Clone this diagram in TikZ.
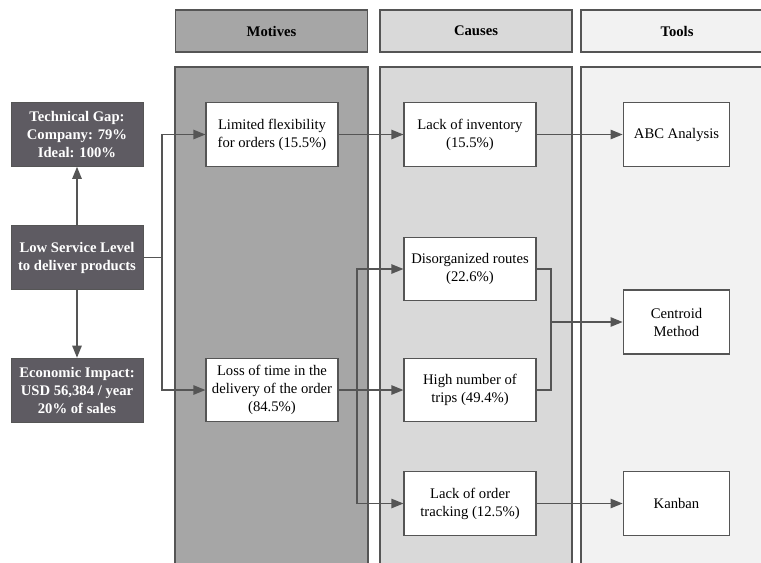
\documentclass[tikz,border=0pt]{standalone}
\usepackage{fontspec}
\setmainfont{Liberation Serif}
\usetikzlibrary{positioning}
\usetikzlibrary{arrows.meta}
\definecolor{motivesgray}{HTML}{A6A6A6}
\definecolor{causesgray}{HTML}{D9D9D9}
\definecolor{toolsgray}{HTML}{F2F2F2}
\definecolor{problemgray}{HTML}{5E5B62}
\definecolor{linegray}{HTML}{555555}
\newcommand{\boxfont}{\fontsize{11}{13.5}\selectfont}
\tikzset{
        header/.style={draw=linegray, line width=1pt, minimum width=144pt, minimum height=31.5pt, inner sep=0pt, font=\boxfont\bfseries},
        band/.style={draw=linegray, line width=1.5pt},
        problem/.style={draw=linegray, fill=problemgray, text=white, align=center, minimum width=99pt, minimum height=48pt, inner sep=0pt, font=\boxfont\bfseries},
        item/.style={draw=linegray, line width=0.8pt, fill=white, align=center, minimum width=99pt, minimum height=47.5pt, inner sep=0pt, font=\boxfont},
        tool/.style={item, minimum width=80pt, minimum height=48pt},
        wire/.style={draw=linegray, line width=1.1pt},
        link/.style={wire, -{Triangle[length=9pt, width=7pt]}},
}
\begin{document}
\begin{tikzpicture}[x=0.75pt, y=-0.75pt]
      \useasboundingbox (0,0) rectangle (761,562);
      % COLUMNS
      \draw[band, fill=motivesgray] (175,67) rectangle (368,575);
      \draw[band, fill=causesgray] (380,67) rectangle (572,575);
      \draw[band, fill=toolsgray] (581,67) rectangle (780,575);
      % HEADERS
      \node[header, fill=motivesgray] (motives) at (271.5,31) {Motives};
      \node[header, fill=causesgray] (causes) at (476,31) {Causes};
      \draw[draw=linegray, line width=1pt, fill=toolsgray] (581,10) rectangle (780,52);
      \node[font=\boxfont\bfseries] (tools) at (677,31) {Tools};

      % PROBLEM
      \node[problem] (gap) at (77,134.5) {Technical Gap:\\Company: 79\%\\Ideal: 100\%};
      \node[problem] (low) at (77,257.5) {Low Service Level\\to deliver products};
      \node[problem] (impact) at (77,390) {Economic Impact:\\USD 56,384 / year\\20\% of sales};

      % MOTIVES
      \node[item] (limited) at (272,134.5) {Limited flexibility\\for orders (15.5\%)};
      \node[item] (loss) at (272,390) {Loss of time in the\\delivery of the order\\(84.5\%)};

      % CAUSES
      \node[item] (inventory) at (470,134.5) {Lack of inventory\\(15.5\%)};
      \node[item] (routes) at (470,269) {Disorganized routes\\(22.6\%)};
      \node[item] (trips) at (470,390) {High number of\\trips (49.4\%)};
      \node[item] (tracking) at (470,503.5) {Lack of order\\tracking (12.5\%)};

      % TOOLS
      \node[tool] (abc) at (676.5,134.5) {ABC Analysis};
      \node[tool] (centroid) at (676.5,322) {Centroid\\Method};
      \node[tool] (kanban) at (676.5,503.5) {Kanban};

      % WIRING
      \coordinate (split1) at (162,257.5);
      \coordinate (split2) at (357,390);
      \coordinate (merge) at (551,322);
      \draw[link] (low) -- (gap);
      \draw[link] (low) -- (impact);
      \draw[link] (low.east) -- (split1) |- (limited.west);
      \draw[link] (split1) |- (loss.west);
      \draw[link] (limited) -- (inventory);
      \draw[link] (inventory) -- (abc);
      \draw[link] (loss) -- (trips);
      \draw[link] (split2) |- (routes.west);
      \draw[link] (split2) |- (tracking.west);
      \draw[wire] (routes.east) -| (merge) |- (trips.east);
      \draw[link] (merge) -- (centroid);
      \draw[link] (tracking) -- (kanban);
\end{tikzpicture}
\end{document}
